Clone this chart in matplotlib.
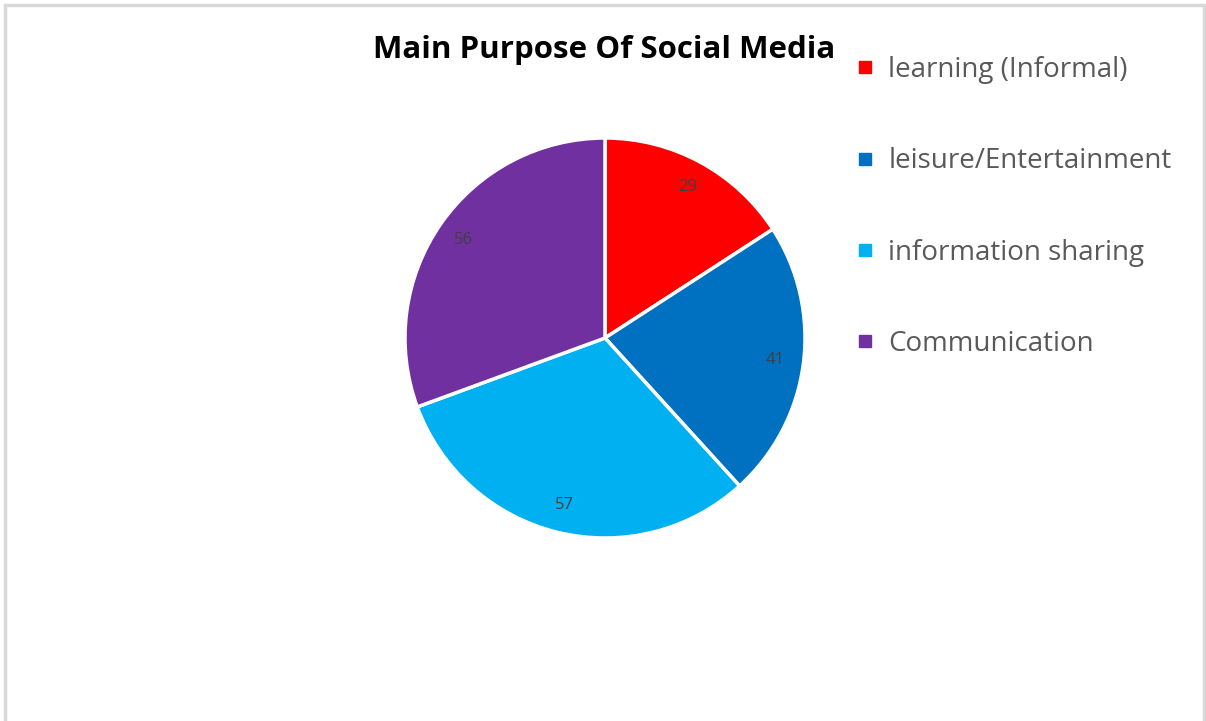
import matplotlib.pyplot as plt
from matplotlib.lines import Line2D
from matplotlib.patches import Rectangle

categories = ['learning (Informal)', 'leisure/Entertainment',
              'information sharing', 'Communication']
counts = [29, 41, 57, 56]
colors = ['#FF0000', '#0070C0', '#00B0F0', '#7030A0']

W, H = 1206, 721
fig = plt.figure(figsize=(W / 100, H / 100), dpi=100)

# light grey frame round the chart area
fig.patches.append(Rectangle((5 / W, -0.01), 1199 / W, (H - 5) / H + 0.01,
                             transform=fig.transFigure, fill=False,
                             edgecolor='#D9D9D9', linewidth=2.5))

# pie axes: centre (605, 338), radius 200 px
ax = fig.add_axes([405 / W, (H - 538) / H, 400 / W, 400 / H])
wedges, texts = ax.pie(counts, colors=colors, startangle=90, counterclock=False,
                       labels=[str(c) for c in counts], labeldistance=0.86,
                       wedgeprops=dict(edgecolor='white', linewidth=2.5),
                       textprops=dict(color='#404040', fontsize=12,
                                      family='Open Sans'))
for t in texts:
    t.set_ha('center')
ax.set_xlim(-1, 1)
ax.set_ylim(-1, 1)
ax.set_aspect('equal')

fig.text(604 / W, 1 - 50 / H, 'Main Purpose Of Social Media', ha='center',
         va='center', fontsize=22.5, fontweight='bold', family='Open Sans')

handles = [Line2D([], [], marker='s', linestyle='none', markersize=8,
                  markerfacecolor=c, markeredgecolor=c) for c in colors]
leg = fig.legend(handles, categories, loc='upper left',
                 bbox_to_anchor=(832 / W, 1 - 31 / H), frameon=False,
                 handlelength=0.6, handletextpad=0.53, labelspacing=2.28,
                 prop=dict(family='Open Sans', size=20))
for t in leg.get_texts():
    t.set_color('#595959')

fig.savefig('out.png', dpi=100)
